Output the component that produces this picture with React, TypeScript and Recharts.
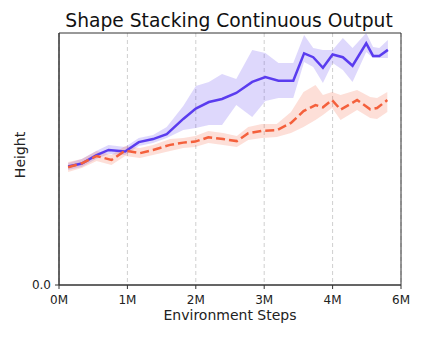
import React from "react";
import {
  ComposedChart,
  Area,
  Line,
  XAxis,
  YAxis,
  CartesianGrid,
  ReferenceArea,
} from "recharts";

// steps in millions, heights
const blueSteps = [0.16, 0.4, 0.65, 0.87, 1.16, 1.4, 1.65, 1.89, 2.18, 2.4, 2.63, 2.86, 3.11, 3.39, 3.62, 3.85, 4.11, 4.3, 4.46, 4.63, 4.8, 4.98, 5.15, 5.39, 5.51, 5.62, 5.77];
const blueMean = [0.47, 0.482, 0.514, 0.536, 0.53, 0.567, 0.579, 0.599, 0.659, 0.7, 0.726, 0.738, 0.762, 0.806, 0.825, 0.811, 0.811, 0.919, 0.904, 0.862, 0.915, 0.904, 0.87, 0.959, 0.909, 0.909, 0.933];
const blueLow = [0.456, 0.468, 0.5, 0.52, 0.516, 0.552, 0.563, 0.583, 0.615, 0.623, 0.635, 0.635, 0.714, 0.667, 0.73, 0.742, 0.742, 0.885, 0.865, 0.802, 0.881, 0.853, 0.806, 0.925, 0.901, 0.901, 0.901];
const blueHigh = [0.484, 0.5, 0.532, 0.556, 0.548, 0.583, 0.595, 0.627, 0.71, 0.79, 0.806, 0.837, 0.817, 0.933, 0.921, 0.881, 0.881, 0.992, 0.94, 0.933, 0.933, 0.98, 0.94, 1.0, 0.944, 0.94, 0.972];

const orangeSteps = [0.16, 0.4, 0.66, 0.92, 1.16, 1.42, 1.65, 1.95, 2.18, 2.39, 2.62, 2.88, 3.12, 3.32, 3.56, 3.82, 4.07, 4.29, 4.5, 4.63, 4.79, 4.94, 5.23, 5.46, 5.58, 5.76];
const orangeMean = [0.467, 0.483, 0.512, 0.496, 0.533, 0.523, 0.536, 0.556, 0.565, 0.569, 0.586, 0.579, 0.571, 0.602, 0.612, 0.614, 0.643, 0.69, 0.714, 0.705, 0.734, 0.696, 0.734, 0.697, 0.702, 0.734];
const orangeLow = [0.448, 0.464, 0.492, 0.476, 0.512, 0.504, 0.516, 0.532, 0.544, 0.548, 0.563, 0.556, 0.548, 0.575, 0.583, 0.587, 0.603, 0.627, 0.655, 0.675, 0.702, 0.655, 0.694, 0.663, 0.659, 0.687];
const orangeHigh = [0.488, 0.5, 0.532, 0.516, 0.552, 0.544, 0.556, 0.579, 0.583, 0.591, 0.611, 0.603, 0.591, 0.627, 0.639, 0.639, 0.687, 0.766, 0.794, 0.754, 0.766, 0.754, 0.774, 0.746, 0.742, 0.766];

const xTicks = [0, 1.2, 2.4, 3.6, 4.8, 6];
const yTicks = [0];

const BLUE = "#5a3cef";
const ORANGE = "#f4603c";
const FONT = "DejaVu Sans";

const blueData = blueSteps.map((s, i) => ({
  step: s,
  mean: blueMean[i],
  band: [blueLow[i], blueHigh[i]],
}));
const orangeData = orangeSteps.map((s, i) => ({
  step: s,
  mean: orangeMean[i],
  band: [orangeLow[i], orangeHigh[i]],
}));

const tickStyle = { fontSize: 12, fill: "#222", fontFamily: FONT };

export default function App() {
  return (
    <div style={{ position: "absolute", left: 0, top: 0, width: 422, height: 338, background: "#fff" }}>
      <div
        style={{
          position: "absolute",
          left: 229,
          top: 10,
          transform: "translateX(-50%)",
          whiteSpace: "nowrap",
          fontFamily: FONT,
          fontSize: 18.7,
          lineHeight: "22px",
          color: "#111",
        }}
      >
        Shape Stacking Continuous Output
      </div>
      <ComposedChart
        width={422}
        height={338}
        margin={{ top: 33, right: 21, left: 0, bottom: 0 }}
      >
        <CartesianGrid vertical horizontal={false} stroke="#cfcfcf" strokeDasharray="4 3" />
        <XAxis
          dataKey="step"
          type="number"
          domain={[0, 6]}
          ticks={xTicks}
          allowDataOverflow
          height={53}
          tickSize={4}
          tickMargin={6}
          tick={tickStyle}
          stroke="#333"
          tickFormatter={(v: number) => `${Math.floor(v + 1e-9)}M`}
          label={{
            value: "Environment Steps",
            position: "insideBottom",
            offset: 18,
            style: { fontSize: 14, fill: "#222", fontFamily: FONT },
          }}
        />
        <YAxis
          type="number"
          domain={[0, 1]}
          ticks={yTicks}
          allowDataOverflow
          width={59}
          tickSize={4}
          tickMargin={4}
          tick={tickStyle}
          stroke="#333"
          tickFormatter={(v: number) => v.toFixed(1)}
          label={{
            value: "Height",
            angle: -90,
            position: "center",
            dx: -9.5,
            dy: -4,
            style: { fontSize: 14, fill: "#222", fontFamily: FONT, textAnchor: "middle" },
          }}
        />
        <ReferenceArea x1={0} x2={6} y1={0} y2={1} fill="none" stroke="#333" strokeWidth={1} ifOverflow="visible" />
        <Area
          data={blueData}
          dataKey="band"
          type="linear"
          stroke="none"
          fill={BLUE}
          fillOpacity={0.2}
          isAnimationActive={false}
        />
        <Area
          data={orangeData}
          dataKey="band"
          type="linear"
          stroke="none"
          fill={ORANGE}
          fillOpacity={0.2}
          isAnimationActive={false}
        />
        <Line
          data={blueData}
          dataKey="mean"
          type="linear"
          stroke={BLUE}
          strokeWidth={2.5}
          dot={false}
          isAnimationActive={false}
        />
        <Line
          data={orangeData}
          dataKey="mean"
          type="linear"
          stroke={ORANGE}
          strokeWidth={2.5}
          strokeDasharray="9 4"
          dot={false}
          isAnimationActive={false}
        />
      </ComposedChart>
    </div>
  );
}
